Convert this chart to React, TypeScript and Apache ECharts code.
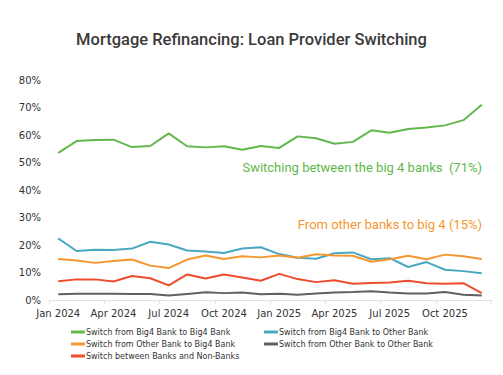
import React, { useEffect, useRef } from "react";
import * as echarts from "echarts";

const months = [
  "Jan 2024", "Feb 2024", "Mar 2024", "Apr 2024", "May 2024", "Jun 2024",
  "Jul 2024", "Aug 2024", "Sep 2024", "Oct 2024", "Nov 2024", "Dec 2024",
  "Jan 2025", "Feb 2025", "Mar 2025", "Apr 2025", "May 2025", "Jun 2025",
  "Jul 2025", "Aug 2025", "Sep 2025", "Oct 2025", "Nov 2025", "Dec 2025",
];

const big4ToBig4 = [53.5, 57.8, 58.2, 58.3, 55.6, 56.0, 60.6, 55.9, 55.5, 55.9, 54.6, 56.0, 55.3, 59.5, 58.8, 56.8, 57.5, 61.7, 60.8, 62.2, 62.7, 63.5, 65.4, 71.0];
const big4ToOther = [22.4, 17.8, 18.3, 18.2, 18.7, 21.2, 20.2, 18.0, 17.6, 17.1, 18.7, 19.2, 16.7, 15.4, 15.0, 17.0, 17.3, 14.8, 15.2, 12.0, 13.8, 11.0, 10.5, 9.7];
const otherToBig4 = [14.9, 14.4, 13.5, 14.2, 14.7, 12.5, 11.6, 14.7, 16.2, 14.9, 15.9, 15.5, 16.2, 15.4, 16.6, 16.2, 16.1, 13.9, 14.8, 16.1, 14.8, 16.5, 15.9, 14.9];
const otherToOther = [2.1, 2.3, 2.3, 2.3, 2.2, 2.2, 1.6, 2.2, 2.8, 2.5, 2.7, 2.1, 2.3, 1.9, 2.4, 2.7, 2.9, 3.2, 2.7, 2.4, 2.4, 2.9, 1.9, 1.6];
const banksNonBanks = [6.8, 7.5, 7.5, 6.7, 8.7, 7.9, 5.3, 9.3, 7.8, 9.3, 8.2, 7.0, 9.5, 7.6, 6.5, 7.2, 5.9, 6.2, 6.4, 7.0, 6.1, 5.9, 6.1, 2.5];

const seriesNames = [
  "Switch from Big4 Bank to Big4 Bank",
  "Switch from Big4 Bank to Other Bank",
  "Switch from Other Bank to Big4 Bank",
  "Switch from Other Bank to Other Bank",
  "Switch between Banks and Non-Banks",
];
const seriesData = [big4ToBig4, big4ToOther, otherToBig4, otherToOther, banksNonBanks];
const seriesColors = ["#62b84c", "#4aa8c2", "#f5962f", "#5d6066", "#ee4c2e"];

const yTicks = [0, 10, 20, 30, 40, 50, 60, 70, 80];

export default function App() {
  const ref = useRef<HTMLDivElement>(null);
  useEffect(() => {
    if (!ref.current) return;
    const chart = echarts.init(ref.current, undefined, { renderer: "svg" });
    chart.setOption({
      animation: false,
      backgroundColor: "#ffffff",
      title: {
        text: "Mortgage Refinancing: Loan Provider Switching",
        left: "center",
        top: 26,
        textStyle: {
          fontFamily: "Roboto",
          fontSize: 16.5,
          fontWeight: 500,
          color: "#3a3a3a",
        },
      },
      grid: { left: 49, right: 12, top: 80, bottom: 75 },
      xAxis: {
        type: "category",
        data: months,
        boundaryGap: true,
        axisLine: { show: true, lineStyle: { color: "#dde3ea", width: 1 } },
        axisTick: { show: true, interval: 2, length: 4, lineStyle: { color: "#dde3ea" } },
        axisLabel: {
          interval: 2,
          fontFamily: "DejaVu Sans",
          fontSize: 10,
          color: "#333333",
          margin: 8,
        },
      },
      yAxis: {
        type: "value",
        min: yTicks[0],
        max: yTicks[yTicks.length - 1],
        interval: 10,
        axisLine: { show: false },
        axisTick: { show: false },
        splitLine: { show: false },
        axisLabel: {
          formatter: (v: number) => `${v}%`,
          fontFamily: "DejaVu Sans",
          fontSize: 10,
          color: "#333333",
          margin: 8,
        },
      },
      legend: {
        left: 71,
        top: 326,
        width: 420,
        padding: 0,
        itemGap: 0,
        itemWidth: 14,
        itemHeight: 3,
        icon: "rect",
        data: seriesNames,
        textStyle: {
          fontFamily: "DejaVu Sans",
          fontSize: 8,
          color: "#333333",
          width: 178,
          lineHeight: 12,
          padding: [0, 0, 0, -4],
        },
      },
      series: seriesNames.map((name, i) => ({
        name,
        type: "line",
        data: seriesData[i],
        symbol: "none",
        lineStyle: { width: 2, color: seriesColors[i] },
        itemStyle: { color: seriesColors[i] },
      })),
      graphic: [
        {
          type: "text",
          right: 21,
          top: 161,
          style: {
            text: "Switching between the big 4 banks  (71%)",
            fontFamily: "Roboto",
            fontSize: 13,
            fill: "#62b84c",
          },
        },
        {
          type: "text",
          right: 21,
          top: 218,
          style: {
            text: "From other banks to big 4 (15%)",
            fontFamily: "Roboto",
            fontSize: 13,
            fill: "#f5962f",
          },
        },
      ],
    });
    return () => chart.dispose();
  }, []);
  return <div ref={ref} style={{ width: 503, height: 375, position: "absolute", left: 0, top: 0 }} />;
}
